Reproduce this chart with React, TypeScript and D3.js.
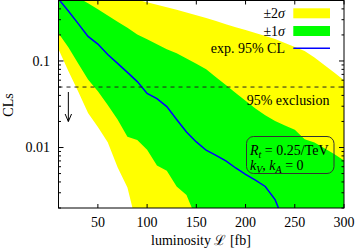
import React, { useRef, useEffect } from 'react';
import * as d3 from 'd3';

// luminosity grid [fb]
const lumi = [10, 20, 30, 40, 50, 60, 70, 80, 90, 100, 110, 120, 130, 140, 150,
  160, 170, 180, 190, 200, 210, 220, 230, 240, 250, 260, 270, 280, 290, 300];

// expected CLs (median), null where it is off the plot
const expected = [0.52, 0.378, 0.27, 0.192, 0.157, 0.119, 0.0938, 0.0738, 0.0578, 0.0421,
  0.0367, 0.0297, 0.0211, 0.0151, 0.0116, 0.0093, 0.0081, 0.007, 0.0058, 0.0049,
  0.0042, 0.00355, 0.0025, 0.0013, null, null, null, null, null, null];

const oneSigmaUp = [0.74, 0.64, 0.54, 0.464, 0.396, 0.336, 0.285, 0.242, 0.203, 0.178,
  0.156, 0.137, 0.123, 0.107, 0.093, 0.0805, 0.065, 0.0527, 0.0427, 0.0348,
  0.0283, 0.0236, 0.0203, 0.018, 0.016, 0.0125, 0.0114, 0.0098, 0.0084, 0.0071];

const oneSigmaDown = [0.209, 0.144, 0.0935, 0.061, 0.0448, 0.031, 0.0211, 0.0133, 0.0122, 0.0094,
  0.0062, 0.0054, 0.00355, 0.00283, 0.0015, null, null, null, null, null,
  null, null, null, null, null, null, null, null, null, null];

const twoSigmaUp = [0.94, 0.87, 0.81, 0.74, 0.69, 0.63, 0.58, 0.54, 0.51, 0.477,
  0.446, 0.418, 0.39, 0.363, 0.337, 0.313, 0.289, 0.266, 0.245, 0.228,
  0.211, 0.195, 0.179, 0.161, 0.145, 0.13, 0.11, 0.09, 0.0736, 0.06];

const twoSigmaDown = [0.137, 0.0764, 0.0444, 0.0251, 0.0173, 0.0115, 0.0059, 0.00345, 0.0012, null,
  null, null, null, null, null, null, null, null, null, null,
  null, null, null, null, null, null, null, null, null, null];

const xTicks = [50, 100, 150, 200, 250, 300];
const yTicks = [0.1, 0.01];
const yTickLabels = ['0.1', '0.01'];
const exclusion = 0.05;

const App = () => {
  const svgRef = useRef<SVGSVGElement>(null);

  useEffect(() => {
    const svg = d3.select(svgRef.current);
    svg.selectAll('*').remove();
    const font = "'Liberation Serif', 'Times New Roman', serif";
    const m = { left: 58.5, right: 344, top: 0.5, bottom: 208 };

    const x = d3.scaleLinear().domain([10, 300]).range([m.left, m.right]);
    const y = d3.scaleLog().domain([0.002, 0.5]).range([m.bottom, m.top]);
    const idx = d3.range(lumi.length);

    svg.append('defs').append('clipPath').attr('id', 'plotarea')
      .append('rect')
      .attr('x', m.left).attr('y', m.top)
      .attr('width', m.right - m.left).attr('height', m.bottom - m.top);

    const plot = svg.append('g').attr('clip-path', 'url(#plotarea)');

    const band = (lo, hi) => d3.area<number>()
      .x(i => x(lumi[i]))
      .y0(i => y(lo[i] ?? 1e-5))
      .y1(i => y(hi[i] ?? 10));

    plot.append('path').attr('d', band(twoSigmaDown, twoSigmaUp)(idx)).attr('fill', '#ffff00');
    plot.append('path').attr('d', band(oneSigmaDown, oneSigmaUp)(idx)).attr('fill', '#00ff00');

    const line = d3.line<number>()
      .defined(i => expected[i] != null)
      .x(i => x(lumi[i]))
      .y(i => y(expected[i]));
    plot.append('path').attr('d', line(idx))
      .attr('fill', 'none').attr('stroke', '#0000ff').attr('stroke-width', 1.5);

    plot.append('line')
      .attr('x1', m.left).attr('x2', m.right)
      .attr('y1', y(exclusion)).attr('y2', y(exclusion))
      .attr('stroke', '#222').attr('stroke-dasharray', '4,4');

    // frame
    svg.append('rect')
      .attr('x', m.left).attr('y', m.top)
      .attr('width', m.right - m.left).attr('height', m.bottom - m.top)
      .attr('fill', 'none').attr('stroke', '#000');

    // x ticks, bottom and top (inward)
    const ax = svg.append('g').attr('stroke', '#000');
    ax.selectAll('line.xb').data(xTicks).join('line')
      .attr('x1', d => x(d)).attr('x2', d => x(d))
      .attr('y1', m.bottom).attr('y2', m.bottom - 4);
    ax.selectAll('line.xt').data(xTicks).join('line')
      .attr('class', 'xt')
      .attr('x1', d => x(d)).attr('x2', d => x(d))
      .attr('y1', m.top).attr('y2', m.top + 4);

    svg.append('g').selectAll('text').data(xTicks).join('text')
      .attr('x', d => x(d)).attr('y', 227)
      .attr('text-anchor', 'middle')
      .attr('font-family', font).attr('font-size', 14)
      .text(d => d);

    // y ticks, log major + minor on both sides
    const yAll = y.ticks().filter(d => d >= 0.002 && d <= 0.5);
    const ay = svg.append('g').attr('stroke', '#000');
    [[m.left, 1], [m.right, -1]].forEach(([x0, dir]) => {
      ay.append('g').selectAll('line').data(yAll).join('line')
        .attr('x1', x0)
        .attr('x2', d => x0 + dir * (yTicks.includes(d) ? 5 : 2.5))
        .attr('y1', d => y(d)).attr('y2', d => y(d));
    });

    svg.append('g').selectAll('text').data(yTicks).join('text')
      .attr('x', 50).attr('y', d => y(d))
      .attr('dy', '0.35em')
      .attr('text-anchor', 'end')
      .attr('font-family', font).attr('font-size', 14)
      .text((d, i) => yTickLabels[i]);

    // axis titles
    svg.append('text')
      .attr('transform', 'translate(13,105) rotate(-90)')
      .attr('text-anchor', 'middle')
      .attr('font-family', font).attr('font-size', 14)
      .text('CLs');

    svg.append('text')
      .attr('x', 201).attr('y', 245)
      .attr('text-anchor', 'middle')
      .attr('font-family', font).attr('font-size', 14)
      .text('luminosity ℒ [fb]');

    // legend
    const legend = [
      { label: '±2', sym: 'σ', color: '#ffff00', kind: 'box', y: 13.3 },
      { label: '±1', sym: 'σ', color: '#00ff00', kind: 'box', y: 31 },
      { label: 'exp. 95% CL', sym: '', color: '#0000ff', kind: 'line', y: 48.3 },
    ];
    const lg = svg.append('g').attr('font-family', font).attr('font-size', 14);
    legend.forEach(d => {
      const t = lg.append('text').attr('x', 285).attr('y', d.y).attr('dy', '0.33em')
        .attr('text-anchor', 'end');
      t.append('tspan').text(d.label);
      if (d.sym) t.append('tspan').attr('font-style', 'italic').text(d.sym);
      if (d.kind === 'box') {
        lg.append('rect').attr('x', 293.3).attr('y', d.y - 5)
          .attr('width', 36.7).attr('height', 10).attr('fill', d.color);
      } else {
        lg.append('line').attr('x1', 293.3).attr('x2', 330)
          .attr('y1', d.y).attr('y2', d.y)
          .attr('stroke', d.color).attr('stroke-width', 1.5);
      }
    });

    svg.append('text')
      .attr('x', 246.7).attr('y', 104.5)
      .attr('font-family', font).attr('font-size', 14)
      .text('95% exclusion');

    // exclusion arrow
    const ax0 = x(20);
    svg.append('path')
      .attr('d', `M${ax0},92 L${ax0},121.5 M${ax0 - 3.2},114 L${ax0},121.5 L${ax0 + 3.2},114`)
      .attr('fill', 'none').attr('stroke', '#000');

    // parameter box
    svg.append('rect')
      .attr('x', 246.5).attr('y', 136.5).attr('width', 87.5).attr('height', 37)
      .attr('rx', 7).attr('fill', 'none').attr('stroke', '#333');

    const t1 = svg.append('text').attr('x', 250).attr('y', 155)
      .attr('font-family', font).attr('font-size', 14);
    t1.append('tspan').attr('font-style', 'italic').text('R');
    t1.append('tspan').attr('font-style', 'italic').attr('font-size', 10).attr('dy', 3).text('t');
    t1.append('tspan').attr('dy', -3).text(' = 0.25/TeV');

    const t2 = svg.append('text').attr('x', 250).attr('y', 170)
      .attr('font-family', font).attr('font-size', 14);
    t2.append('tspan').attr('font-style', 'italic').text('k');
    t2.append('tspan').attr('font-style', 'italic').attr('font-size', 10).attr('dy', 3).text('V');
    t2.append('tspan').attr('dy', -3).text(', ');
    t2.append('tspan').attr('font-style', 'italic').text('k');
    t2.append('tspan').attr('font-style', 'italic').attr('font-size', 10).attr('dy', 3).text('A');
    t2.append('tspan').attr('dy', -3).text(' = 0');
  }, []);

  return (
    <svg ref={svgRef} width={357} height={248}
      style={{ position: 'absolute', left: 0, top: 0, background: '#fff' }}>
    </svg>
  );
};

export default App;
